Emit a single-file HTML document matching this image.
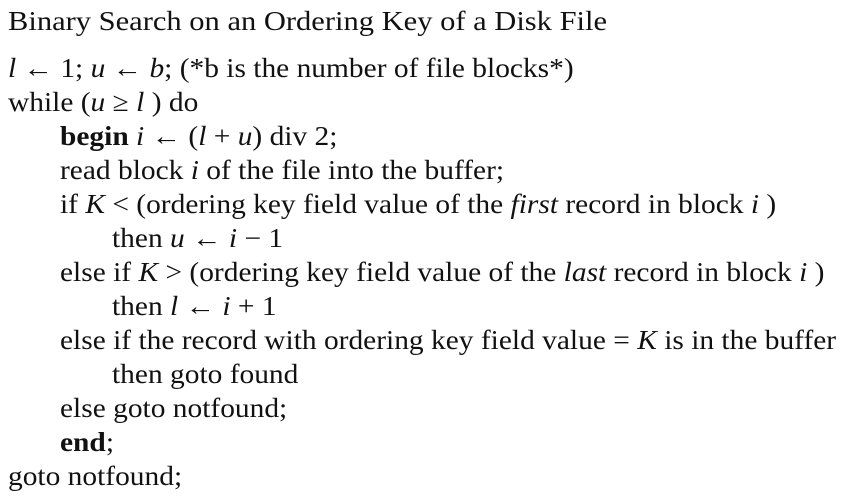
<!DOCTYPE html>
<html><head><meta charset="utf-8"><style>
body{margin:0;width:850px;height:500px;background:#fff;overflow:hidden;font-family:"Liberation Serif",serif;font-size:27px;color:#111}
.l{position:absolute;white-space:nowrap;line-height:34px;transform:scaleX(1.09);transform-origin:0 0}
.i1{left:60px}.i2{left:112px}.i0{left:8px}
.t{transform:scaleX(1.13)}
</style></head><body>
<div class="l i0 t" style="top:4px">Binary Search on an Ordering Key of a Disk File</div>
<div class="l i0" style="top:51px"><i>l</i> ← 1; <i>u</i> ← <i>b</i>; (*b is the number of file blocks*)</div>
<div class="l i0" style="top:85px">while (<i>u</i> ≥ <i>l</i> ) do</div>
<div class="l i1" style="top:119px"><b>begin</b> <i>i</i> ← (<i>l</i> + <i>u</i>) div 2;</div>
<div class="l i1" style="top:153px">read block <i>i</i> of the file into the buffer;</div>
<div class="l i1" style="top:187px">if <i>K</i> &lt; (ordering key field value of the <i>first</i> record in block <i>i</i> )</div>
<div class="l i2" style="top:221px">then <i>u</i> ← <i>i</i> − 1</div>
<div class="l i1" style="top:255px">else if <i>K</i> &gt; (ordering key field value of the <i>last</i> record in block <i>i</i> )</div>
<div class="l i2" style="top:289px">then <i>l</i> ← <i>i</i> + 1</div>
<div class="l i1" style="top:323px">else if the record with ordering key field value = <i>K</i> is in the buffer</div>
<div class="l i2" style="top:357px">then goto found</div>
<div class="l i1" style="top:391px">else goto notfound;</div>
<div class="l i1" style="top:425px"><b>end</b>;</div>
<div class="l i0" style="top:459px">goto notfound;</div>
</body></html>
